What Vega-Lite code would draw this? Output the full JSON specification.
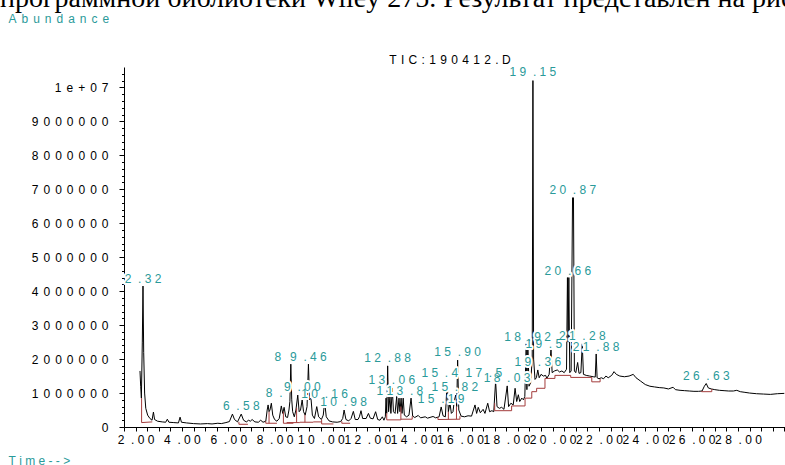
{
 "$schema": "https://vega.github.io/schema/vega-lite/v6.json",
 "width": 661,
 "height": 360,
 "autosize": {"type": "none"},
 "padding": {"left": 124, "top": 67, "right": 0, "bottom": 38},
 "background": "white",
 "title": {"text": "программной библиотеки Wiley 275. Результат представлен на рисунке", "anchor": "start", "frame": "group", "font": "Liberation Serif", "fontSize": 28, "fontWeight": "normal", "color": "black", "baseline": "alphabetic", "offset": 0, "dx": -124, "dy": 23},
 "datasets": {
  "trace": [
   {"t":2.19,"a":1650000},{"t":2.22,"a":1200000},{"t":2.25,"a":850000},{"t":2.29,"a":2500000},{"t":2.32,"a":4150000},{"t":2.35,"a":2200000},{"t":2.39,"a":1000000},{"t":2.44,"a":550000},{"t":2.52,"a":350000},{"t":2.62,"a":250000},{"t":2.71,"a":200000},{"t":2.77,"a":440000},{"t":2.82,"a":220000},{"t":2.95,"a":170000},{"t":3.15,"a":150000},{"t":3.3,"a":140000},{"t":3.37,"a":230000},{"t":3.44,"a":140000},{"t":3.65,"a":130000},{"t":3.85,"a":120000},{"t":3.92,"a":290000},{"t":3.98,"a":140000},{"t":4.2,"a":120000},{"t":4.5,"a":100000},{"t":4.8,"a":90000},{"t":5.1,"a":100000},{"t":5.3,"a":90000},{"t":5.55,"a":110000},{"t":5.7,"a":100000},{"t":5.9,"a":130000},{"t":6.05,"a":160000},{"t":6.18,"a":380000},{"t":6.27,"a":220000},{"t":6.4,"a":150000},{"t":6.56,"a":380000},{"t":6.66,"a":200000},{"t":6.78,"a":150000},{"t":6.88,"a":200000},{"t":6.95,"a":170000},{"t":7.03,"a":220000},{"t":7.15,"a":150000},{"t":7.3,"a":140000},{"t":7.4,"a":200000},{"t":7.5,"a":140000},{"t":7.62,"a":170000},{"t":7.68,"a":500000},{"t":7.72,"a":650000},{"t":7.76,"a":450000},{"t":7.8,"a":500000},{"t":7.86,"a":700000},{"t":7.92,"a":350000},{"t":8.0,"a":220000},{"t":8.1,"a":170000},{"t":8.2,"a":250000},{"t":8.29,"a":620000},{"t":8.35,"a":400000},{"t":8.41,"a":580000},{"t":8.48,"a":300000},{"t":8.56,"a":280000},{"t":8.62,"a":500000},{"t":8.66,"a":750000},{"t":8.7,"a":1850000},{"t":8.74,"a":800000},{"t":8.78,"a":450000},{"t":8.85,"a":300000},{"t":8.92,"a":500000},{"t":9.0,"a":940000},{"t":9.06,"a":450000},{"t":9.12,"a":500000},{"t":9.19,"a":800000},{"t":9.25,"a":450000},{"t":9.32,"a":350000},{"t":9.4,"a":600000},{"t":9.46,"a":1850000},{"t":9.51,"a":800000},{"t":9.57,"a":850000},{"t":9.63,"a":350000},{"t":9.72,"a":250000},{"t":9.82,"a":600000},{"t":9.9,"a":300000},{"t":10.02,"a":220000},{"t":10.1,"a":350000},{"t":10.16,"a":740000},{"t":10.23,"a":300000},{"t":10.35,"a":180000},{"t":10.5,"a":150000},{"t":10.7,"a":140000},{"t":10.85,"a":160000},{"t":10.94,"a":250000},{"t":11.0,"a":500000},{"t":11.08,"a":220000},{"t":11.2,"a":180000},{"t":11.3,"a":250000},{"t":11.4,"a":460000},{"t":11.48,"a":220000},{"t":11.6,"a":220000},{"t":11.66,"a":300000},{"t":11.73,"a":480000},{"t":11.8,"a":250000},{"t":11.95,"a":250000},{"t":12.05,"a":400000},{"t":12.13,"a":260000},{"t":12.25,"a":240000},{"t":12.36,"a":450000},{"t":12.45,"a":220000},{"t":12.55,"a":200000},{"t":12.65,"a":300000},{"t":12.72,"a":200000},{"t":12.78,"a":300000},{"t":12.81,"a":850000},{"t":12.84,"a":400000},{"t":12.88,"a":1800000},{"t":12.92,"a":450000},{"t":12.98,"a":900000},{"t":13.02,"a":400000},{"t":13.08,"a":1150000},{"t":13.13,"a":450000},{"t":13.2,"a":400000},{"t":13.27,"a":900000},{"t":13.31,"a":400000},{"t":13.37,"a":850000},{"t":13.41,"a":450000},{"t":13.46,"a":850000},{"t":13.5,"a":400000},{"t":13.55,"a":850000},{"t":13.6,"a":350000},{"t":13.7,"a":300000},{"t":13.8,"a":350000},{"t":13.89,"a":850000},{"t":13.96,"a":320000},{"t":14.05,"a":280000},{"t":14.2,"a":340000},{"t":14.3,"a":270000},{"t":14.5,"a":300000},{"t":14.6,"a":260000},{"t":14.84,"a":310000},{"t":14.95,"a":270000},{"t":15.1,"a":300000},{"t":15.19,"a":590000},{"t":15.27,"a":330000},{"t":15.37,"a":300000},{"t":15.45,"a":1360000},{"t":15.5,"a":450000},{"t":15.57,"a":700000},{"t":15.63,"a":400000},{"t":15.7,"a":450000},{"t":15.76,"a":800000},{"t":15.82,"a":940000},{"t":15.86,"a":600000},{"t":15.9,"a":1970000},{"t":15.95,"a":500000},{"t":16.05,"a":320000},{"t":16.2,"a":300000},{"t":16.35,"a":330000},{"t":16.5,"a":320000},{"t":16.65,"a":650000},{"t":16.72,"a":400000},{"t":16.79,"a":580000},{"t":16.88,"a":420000},{"t":17.0,"a":520000},{"t":17.08,"a":400000},{"t":17.2,"a":700000},{"t":17.28,"a":450000},{"t":17.38,"a":480000},{"t":17.46,"a":450000},{"t":17.54,"a":1360000},{"t":17.6,"a":600000},{"t":17.7,"a":550000},{"t":17.8,"a":580000},{"t":17.9,"a":520000},{"t":18.04,"a":1210000},{"t":18.1,"a":600000},{"t":18.2,"a":700000},{"t":18.3,"a":650000},{"t":18.38,"a":1140000},{"t":18.45,"a":750000},{"t":18.52,"a":950000},{"t":18.58,"a":750000},{"t":18.67,"a":850000},{"t":18.74,"a":800000},{"t":18.8,"a":900000},{"t":18.86,"a":2450000},{"t":18.89,"a":1100000},{"t":18.93,"a":2450000},{"t":18.98,"a":1200000},{"t":19.05,"a":1300000},{"t":19.12,"a":2000000},{"t":19.15,"a":10200000},{"t":19.18,"a":2000000},{"t":19.24,"a":1400000},{"t":19.3,"a":1450000},{"t":19.36,"a":1680000},{"t":19.42,"a":1450000},{"t":19.5,"a":1550000},{"t":19.6,"a":1500000},{"t":19.7,"a":1520000},{"t":19.75,"a":1430000},{"t":19.85,"a":1550000},{"t":19.93,"a":2300000},{"t":19.98,"a":1600000},{"t":20.08,"a":1650000},{"t":20.2,"a":1680000},{"t":20.3,"a":1620000},{"t":20.4,"a":1650000},{"t":20.5,"a":1600000},{"t":20.6,"a":1700000},{"t":20.64,"a":4400000},{"t":20.67,"a":2500000},{"t":20.7,"a":4400000},{"t":20.74,"a":1600000},{"t":20.8,"a":1650000},{"t":20.86,"a":6750000},{"t":20.9,"a":6750000},{"t":20.94,"a":1650000},{"t":21.0,"a":1600000},{"t":21.08,"a":1900000},{"t":21.14,"a":1580000},{"t":21.22,"a":1600000},{"t":21.28,"a":2450000},{"t":21.33,"a":1550000},{"t":21.45,"a":1520000},{"t":21.6,"a":1500000},{"t":21.75,"a":1480000},{"t":21.84,"a":1470000},{"t":21.88,"a":2150000},{"t":21.92,"a":1450000},{"t":22.0,"a":1420000},{"t":22.1,"a":1450000},{"t":22.2,"a":1420000},{"t":22.3,"a":1500000},{"t":22.4,"a":1450000},{"t":22.55,"a":1520000},{"t":22.65,"a":1630000},{"t":22.75,"a":1550000},{"t":22.9,"a":1500000},{"t":23.1,"a":1480000},{"t":23.3,"a":1500000},{"t":23.48,"a":1550000},{"t":23.6,"a":1450000},{"t":23.8,"a":1350000},{"t":24.0,"a":1250000},{"t":24.2,"a":1200000},{"t":24.4,"a":1180000},{"t":24.6,"a":1160000},{"t":24.8,"a":1150000},{"t":25.0,"a":1120000},{"t":25.2,"a":1170000},{"t":25.3,"a":1100000},{"t":25.5,"a":1080000},{"t":25.7,"a":1070000},{"t":25.9,"a":1060000},{"t":26.1,"a":1050000},{"t":26.3,"a":1050000},{"t":26.45,"a":1060000},{"t":26.55,"a":1200000},{"t":26.63,"a":1280000},{"t":26.72,"a":1150000},{"t":26.85,"a":1120000},{"t":27.0,"a":1100000},{"t":27.2,"a":1080000},{"t":27.4,"a":1070000},{"t":27.6,"a":1060000},{"t":27.8,"a":1060000},{"t":27.95,"a":1080000},{"t":28.1,"a":1040000},{"t":28.3,"a":1020000},{"t":28.5,"a":1000000},{"t":28.8,"a":980000},{"t":29.1,"a":970000},{"t":29.4,"a":960000},{"t":29.7,"a":980000},{"t":30.0,"a":990000}
  ],
  "base": [
   {"s":"A","i":0,"t":2.26,"a":850000},{"s":"A","i":1,"t":2.26,"a":130000},{"s":"A","i":2,"t":2.72,"a":150000},
   {"s":"B","i":0,"t":6.46,"a":150000},{"s":"B","i":1,"t":6.46,"a":80000},{"s":"B","i":2,"t":6.85,"a":80000},
   {"s":"C","i":0,"t":7.62,"a":170000},{"s":"C","i":1,"t":7.62,"a":110000},{"s":"C","i":2,"t":8.1,"a":110000},
   {"s":"D","i":0,"t":7.76,"a":450000},{"s":"D","i":1,"t":7.76,"a":110000},
   {"s":"E","i":0,"t":8.38,"a":450000},{"s":"E","i":1,"t":8.38,"a":110000},{"s":"E","i":2,"t":8.81,"a":110000},
   {"s":"F","i":0,"t":8.52,"a":130000},{"s":"F","i":1,"t":9.09,"a":130000},
   {"s":"F2","i":0,"t":8.95,"a":560000},{"s":"F2","i":1,"t":8.95,"a":130000},
   {"s":"G","i":0,"t":9.09,"a":140000},{"s":"G","i":1,"t":9.67,"a":140000},
   {"s":"G2","i":0,"t":9.31,"a":360000},{"s":"G2","i":1,"t":9.31,"a":140000},
   {"s":"H","i":0,"t":9.67,"a":150000},{"s":"H","i":1,"t":10.03,"a":150000},
   {"s":"I","i":0,"t":10.03,"a":220000},{"s":"I","i":1,"t":10.03,"a":90000},{"s":"I","i":2,"t":10.54,"a":90000},
   {"s":"J","i":0,"t":10.9,"a":170000},{"s":"J","i":1,"t":10.9,"a":110000},{"s":"J","i":2,"t":11.26,"a":110000},
   {"s":"K","i":0,"t":12.84,"a":400000},{"s":"K","i":1,"t":12.84,"a":210000},{"s":"K","i":2,"t":13.45,"a":210000},{"s":"K","i":3,"t":13.45,"a":600000},
   {"s":"K2","i":0,"t":13.45,"a":230000},{"s":"K2","i":1,"t":13.94,"a":230000},{"s":"K2","i":2,"t":13.94,"a":320000},
   {"s":"L","i":0,"t":15.05,"a":290000},{"s":"L","i":1,"t":15.05,"a":220000},{"s":"L","i":2,"t":16.0,"a":230000},{"s":"L","i":3,"t":16.0,"a":320000},
   {"s":"L2","i":0,"t":15.5,"a":450000},{"s":"L2","i":1,"t":15.5,"a":220000},
   {"s":"L3","i":0,"t":15.85,"a":600000},{"s":"L3","i":1,"t":15.85,"a":230000},
   {"s":"M","i":0,"t":17.5,"a":700000},{"s":"M","i":1,"t":17.5,"a":480000},{"s":"M","i":2,"t":18.23,"a":480000},{"s":"M","i":3,"t":18.23,"a":620000},{"s":"M","i":4,"t":18.81,"a":620000},{"s":"M","i":5,"t":18.81,"a":850000},{"s":"M","i":6,"t":19.1,"a":850000},{"s":"M","i":7,"t":19.1,"a":1040000},{"s":"M","i":8,"t":19.31,"a":1040000},{"s":"M","i":9,"t":19.31,"a":1140000},{"s":"M","i":10,"t":19.67,"a":1140000},{"s":"M","i":11,"t":19.67,"a":1430000},{"s":"M","i":12,"t":20.1,"a":1430000},{"s":"M","i":13,"t":20.1,"a":1520000},{"s":"M","i":14,"t":20.78,"a":1520000},{"s":"M","i":15,"t":20.78,"a":1460000},{"s":"M","i":16,"t":21.69,"a":1460000},{"s":"M","i":17,"t":21.69,"a":1330000},{"s":"M","i":18,"t":22.05,"a":1330000},{"s":"M","i":19,"t":22.05,"a":1420000},
   {"s":"N","i":0,"t":26.43,"a":1060000},{"s":"N","i":1,"t":26.43,"a":1040000},{"s":"N","i":2,"t":26.87,"a":1040000},{"s":"N","i":3,"t":26.87,"a":1120000}
  ],
  "labels": [
   {"t":2.32,"a":4360000,"txt":"2\u00a0\u00a0.\u00a03\u00a02"},
   {"t":6.56,"a":620000,"txt":"6\u00a0\u00a0.\u00a05\u00a08"},
   {"t":7.98,"a":1000000,"txt":"8\u00a0\u00a0."},
   {"t":8.14,"a":2060000,"txt":"8"},
   {"t":9.46,"a":2060000,"txt":"9\u00a0\u00a0.\u00a04\u00a06"},
   {"t":9.2,"a":1180000,"txt":"9\u00a0\u00a0.\u00a00\u00a00"},
   {"t":10.16,"a":970000,"txt":"1\u00a00\u00a0\u00a0.\u00a01\u00a06"},
   {"t":10.98,"a":750000,"txt":"1\u00a00\u00a0\u00a0.\u00a09\u00a08"},
   {"t":12.88,"a":2030000,"txt":"1\u00a02\u00a0\u00a0.\u00a08\u00a08"},
   {"t":13.06,"a":1380000,"txt":"1\u00a03\u00a0\u00a0.\u00a00\u00a06"},
   {"t":13.41,"a":1060000,"txt":"1\u00a01\u00a03\u00a0\u00a0.\u00a08"},
   {"t":15.13,"a":1590000,"txt":"1\u00a05\u00a0\u00a0.\u00a04"},
   {"t":15.9,"a":2210000,"txt":"1\u00a05\u00a0\u00a0.\u00a09\u00a00"},
   {"t":15.78,"a":1180000,"txt":"1\u00a05\u00a0\u00a0.\u00a08\u00a02"},
   {"t":15.19,"a":820000,"txt":"1\u00a05\u00a0\u00a0.\u00a01\u00a09"},
   {"t":17.03,"a":1590000,"txt":"1\u00a07\u00a0\u00a0.\u00a05"},
   {"t":18.03,"a":1440000,"txt":"1\u00a08\u00a0\u00a0.\u00a00\u00a03"},
   {"t":18.92,"a":2650000,"txt":"1\u00a08\u00a0\u00a0.\u00a09\u00a02"},
   {"t":21.28,"a":2680000,"txt":"2\u00a01\u00a0\u00a0.\u00a02\u00a08"},
   {"t":19.62,"a":2450000,"txt":"1\u00a09\u00a0\u00a0.\u00a05"},
   {"t":21.88,"a":2360000,"txt":"2\u00a01\u00a0\u00a0.\u00a08\u00a08"},
   {"t":19.36,"a":1920000,"txt":"1\u00a09\u00a0\u00a0.\u00a03\u00a06"},
   {"t":20.66,"a":4600000,"txt":"2\u00a00\u00a0\u00a0.\u00a06\u00a06"},
   {"t":20.87,"a":6980000,"txt":"2\u00a00\u00a0\u00a0.\u00a08\u00a07"},
   {"t":19.15,"a":10460000,"txt":"1\u00a09\u00a0\u00a0.\u00a01\u00a05"},
   {"t":26.63,"a":1500000,"txt":"2\u00a06\u00a0\u00a0.\u00a06\u00a03"}
  ],
  "tic": [
   {"t":15.57,"a":10810000,"txt":"T\u00a0\u200aI\u00a0\u200aC\u00a0\u200a:\u00a0\u200a1\u00a0\u200a9\u00a0\u200a0\u00a0\u200a4\u00a0\u200a1\u00a0\u200a2\u00a0\u200a.\u00a0D"}
  ]
 },
 "encoding": {
  "x": {"field": "t", "type": "quantitative", "scale": {"domain": [1.5, 30.03], "nice": false, "zero": false},
   "axis": {"values": [1.5,2,2.5,3,3.5,4,4.5,5,5.5,6,6.5,7,7.5,8,8.5,9,9.5,10,10.5,11,11.5,12,12.5,13,13.5,14,14.5,15,15.5,16,16.5,17,17.5,18,18.5,19,19.5,20,20.5,21,21.5,22,22.5,23,23.5,24,24.5,25,25.5,26,26.5,27,27.5,28,28.5,29,29.5,30],
    "labelExpr": "datum.value % 2 == 0 && datum.value <= 28 ? replace(join(split(format(datum.value, '.2f'), ''), '\u00a0'), '.', '\u00a0.') : ''",
    "labelOverlap": false, "labelFlush": false, "labelFont": "Liberation Sans", "labelFontSize": 12, "labelColor": "black", "labelPadding": 3,
    "tickSize": 4, "tickColor": "black", "domainColor": "black", "grid": false,
    "title": "T\u00a0i\u00a0m\u00a0e\u00a0-\u00a0-\u00a0>", "titleX": -116, "titleY": 33, "titleAlign": "left", "titleBaseline": "middle", "titleColor": "#2a9a9a", "titleFont": "Liberation Sans", "titleFontSize": 12, "titleFontWeight": "normal"}},
  "y": {"field": "a", "type": "quantitative", "scale": {"domain": [0, 10600000], "nice": false},
   "axis": {"values": [0,200000,400000,600000,800000,1000000,1200000,1400000,1600000,1800000,2000000,2200000,2400000,2600000,2800000,3000000,3200000,3400000,3600000,3800000,4000000,4200000,4400000,4600000,4800000,5000000,5200000,5400000,5600000,5800000,6000000,6200000,6400000,6600000,6800000,7000000,7200000,7400000,7600000,7800000,8000000,8200000,8400000,8600000,8800000,9000000,9200000,9400000,9600000,9800000,10000000,10200000,10400000],
    "labelExpr": "datum.value % 1000000 == 0 ? join(split(datum.value >= 10000000 ? '1e+07' : format(datum.value, 'd'), ''), '\u2005\u2006') : ''",
    "labelOverlap": false, "labelFlush": false, "labelFont": "Liberation Sans", "labelFontSize": 12, "labelColor": "black", "labelPadding": 11,
    "tickSize": {"condition": {"test": "datum.value % 1000000 == 0", "value": 5}, "value": 2.5},
    "tickColor": "black", "domainColor": "black", "grid": false,
    "title": "A\u2005\u2006b\u2005\u2006u\u2005\u2006n\u2005\u2006d\u2005\u2006a\u2005\u2006n\u2005\u2006c\u2005\u2006e", "titleAngle": 0, "titleX": -116, "titleY": -49, "titleAlign": "left", "titleBaseline": "middle", "titleColor": "#2a9a9a", "titleFont": "Liberation Sans", "titleFontSize": 12, "titleFontWeight": "normal"}}
 },
 "layer": [
  {"data": {"name": "trace"}, "mark": {"type": "line", "color": "black", "strokeWidth": 1}},
  {"data": {"name": "base"}, "mark": {"type": "line", "color": "#a33c3c", "strokeWidth": 1}, "encoding": {"detail": {"field": "s"}, "order": {"field": "i"}}},
  {"data": {"name": "labels"}, "mark": {"type": "text", "font": "Liberation Sans", "fontSize": 12, "baseline": "middle", "align": "center", "color": "white", "stroke": "white", "strokeWidth": 4, "strokeJoin": "round"}, "encoding": {"text": {"field": "txt"}}},
  {"data": {"name": "labels"}, "mark": {"type": "text", "font": "Liberation Sans", "fontSize": 12, "baseline": "middle", "align": "center", "color": "#2a9a9a"}, "encoding": {"text": {"field": "txt"}}},
  {"data": {"name": "tic"}, "mark": {"type": "text", "font": "Liberation Sans", "fontSize": 12, "baseline": "middle", "align": "center", "color": "black"}, "encoding": {"text": {"field": "txt"}}}
 ],
 "config": {"view": {"stroke": null}, "font": "Liberation Sans"}
}
